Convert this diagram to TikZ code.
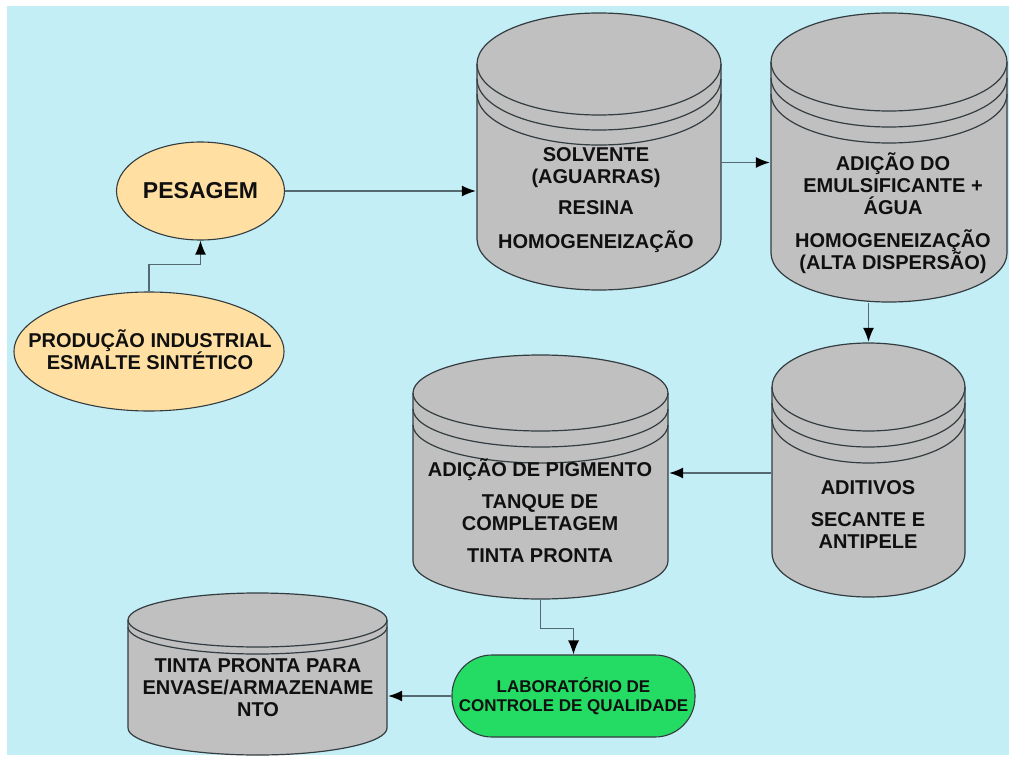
\documentclass[tikz,border=0pt]{standalone}
\usepackage{fontspec}
\setmainfont{Liberation Sans}
\usepackage{xcolor}
\usepackage{tikz}
\usetikzlibrary{calc}
\usetikzlibrary{arrows.meta}
\usetikzlibrary{shapes}
\usetikzlibrary{shapes.geometric}

\definecolor{fundo}{HTML}{C4EEF6}
\definecolor{cinza}{HTML}{C0C0C0}
\definecolor{pessego}{HTML}{FFE0A2}
\definecolor{verde}{HTML}{24DC63}
\definecolor{borda}{HTML}{333C40}
\definecolor{linha}{HTML}{546A70}
\definecolor{preto}{HTML}{101010}

\tikzset{
  texto/.style={font=\fontsize{20}{22}\selectfont\bfseries, align=center, text=preto},
  elipse/.style={ellipse, draw=borda, line width=1.1pt, fill=pessego, inner sep=0pt},
  lab/.style={rectangle, rounded corners=40pt, draw=borda, line width=1.1pt, fill=verde,
    font=\fontsize{17}{18.5}\selectfont\bfseries, align=center, text=preto},
  seta/.style={-{Latex[length=14pt,width=11pt,color=black]}, draw=linha, line width=1.3pt},
  % #1 raio da elipse, #2 aneis extra, #3 espaco entre aneis
  tanque/.style n args={3}{rectangle, inner sep=0pt,
    path picture={
      \filldraw[fill=cinza, draw=borda, line width=1.2pt]
        let \p1=(path picture bounding box.north west),
            \p2=(path picture bounding box.south east),
            \n1={(\x2-\x1)/2-1pt} in
        (\x1+1pt,\y1-#1) -- (\x1+1pt,\y2+#1)
        arc[start angle=180, end angle=360, x radius={\n1*1pt}, y radius=#1-1pt]
        -- (\x2-1pt,\y1-#1)
        arc[start angle=0, end angle=180, x radius={\n1*1pt}, y radius=#1-1pt] -- cycle;
      \foreach \k in {0,...,#2}
        \draw[draw=borda, line width=1.2pt]
          let \p1=(path picture bounding box.north west),
              \p2=(path picture bounding box.south east),
              \n1={(\x2-\x1)/2-1pt} in
          (\x1+1pt,\y1-#1-\k*#3)
          arc[start angle=180, end angle=360, x radius={\n1*1pt}, y radius=#1-1pt];
    }},
}

\begin{document}
\begin{tikzpicture}[x=1pt, y=-1pt]
\useasboundingbox (0,0) rectangle (1009,757);
\fill[white] (0,0) rectangle (1009,757);
\fill[fundo] (7,6) rectangle (1009,755);

% elipses
\node [elipse, minimum width=168pt, minimum height=98pt, texto, font=\fontsize{23}{25}\selectfont\bfseries] (pesagem) at (200.5,191) {PESAGEM};
\node [elipse, minimum width=270pt, minimum height=119pt] (producao) at (149,351.5) {};
\node [texto] (txt-producao) at (150,349.7) {PRODUÇÃO INDUSTRIAL\\ESMALTE SINTÉTICO};

% tanques
\node [tanque={52pt}{2}{15pt}, minimum width=246pt, minimum height=279pt] (solvente) at (599,151.5) {};
\node [texto] (txt-solvente) at (596,200.5) {SOLVENTE\\(AGUARRAS)\\[9pt]RESINA\\[12pt]HOMOGENEIZAÇÃO};

\node [tanque={50pt}{2}{16pt}, minimum width=238pt, minimum height=291pt] (emulsao) at (889,157.5) {};
\node [texto] (txt-emulsao) at (893,213.3) {ADIÇÃO DO\\EMULSIFICANTE +\\ÁGUA\\[11pt]HOMOGENEIZAÇÃO\\(ALTA DISPERSÃO)};

\node [tanque={45pt}{2}{16pt}, minimum width=195pt, minimum height=256pt] (aditivos) at (868.5,470) {};
\node [texto] (txt-aditivos) at (868,514.3) {ADITIVOS\\[10pt]SECANTE E\\ANTIPELE};

\node [tanque={39pt}{2}{16pt}, minimum width=257pt, minimum height=246pt] (pigmento) at (540.5,477) {};
\node [texto] (txt-pigmento) at (540,510.7) {ADIÇÃO DE PIGMENTO\\[10pt]TANQUE DE\\COMPLETAGEM\\[10pt]TINTA PRONTA};

\node [tanque={28pt}{1}{7pt}, minimum width=261pt, minimum height=164pt] (envase) at (257.5,674) {};
\node [texto] (txt-envase) at (258,687.4) {TINTA PRONTA PARA\\ENVASE/ARMAZENAME\\NTO};

\node [lab, minimum width=243pt, minimum height=82pt] (lab) at (573.5,696) {LABORATÓRIO DE\\CONTROLE DE QUALIDADE};

% setas
\draw [seta] (producao.north) -- ++(0,-27) -| (pesagem.south);
\draw [seta] (pesagem.east) -- (pesagem.east -| solvente.west);
\draw [seta] ([yshift=-11pt]solvente.east) -- ([yshift=-11pt]solvente.east -| emulsao.west);
\draw [seta] (emulsao.south -| aditivos.north) -- (aditivos.north);
\draw [seta] ([yshift=-3pt]aditivos.west) -- ([yshift=-3pt]aditivos.west -| pigmento.east);
\draw [seta] (pigmento.south) -- ++(0,28) -| (lab.north);
\draw [seta] (lab.west) -- (lab.west -| envase.east);
\end{tikzpicture}
\end{document}
